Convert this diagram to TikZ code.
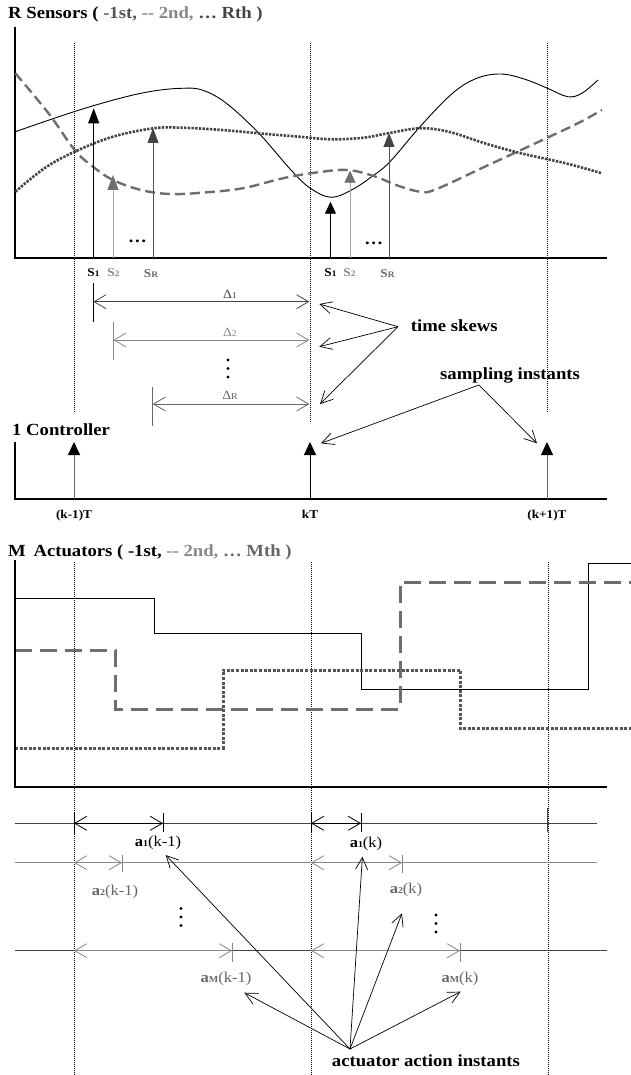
\documentclass[tikz,border=0pt]{standalone}
\usepackage{fontspec}
\setmainfont{Liberation Serif}[FakeStretch=1.1]
\usetikzlibrary{arrows.meta}
\definecolor{gA}{HTML}{888888}
\definecolor{gB}{HTML}{666666}
\definecolor{gC}{HTML}{555555}
\definecolor{gD}{HTML}{444444}
\definecolor{gL}{HTML}{AAAAAA}
\definecolor{gS}{HTML}{6E6E6E}
\tikzset{
  axis/.style={line width=1.4pt, black},
  grid/.style={line width=0.8pt, black, dash pattern=on 0.9pt off 1.1pt},
  solidc/.style={line width=0.9pt, black},
  dashc/.style={gS, line width=2.4pt, dash pattern=on 10pt off 5pt},
  dotc/.style={gD, line width=2.6pt, dash pattern=on 2.4pt off 1.3pt},
  stepsolid/.style={line width=1pt, black},
  stepdash/.style={gS, line width=3pt, dash pattern=on 17pt off 8pt},
  stepdot/.style={gC, line width=3pt, dash pattern=on 3pt off 1.6pt},
  sarrow/.style={line width=0.8pt},
  barbs/.style={{Straight Barb[length=12pt,width=14pt]}-{Straight Barb[length=12pt,width=14pt]}, line width=0.8pt},
  pointer/.style={-{Straight Barb[length=12pt,width=12pt]}, line width=0.7pt, black},
  tick/.style={line width=0.8pt},
  rowline/.style={line width=0.8pt},
  bigtxt/.style={font=\bfseries\fontsize{17}{20}\selectfont, anchor=base west, inner sep=0pt},
  slab/.style={font=\bfseries\fontsize{12}{14}\selectfont, anchor=base, inner sep=0pt},
  dlab/.style={font=\fontsize{12.5}{14}\selectfont, anchor=base, inner sep=0pt},
  tlab/.style={font=\bfseries\fontsize{12}{14}\selectfont, anchor=base, inner sep=0pt},
  alab/.style={font=\fontsize{15}{17}\selectfont, anchor=base, inner sep=0pt},
  dotsl/.style={font=\bfseries\fontsize{17}{20}\selectfont, anchor=base, inner sep=0pt},
}
\newcommand{\Ssub}[1]{S{\fontsize{8.5}{9}\selectfont #1}}
\newcommand{\Dsub}[1]{Δ{\fontsize{9}{10}\selectfont #1}}
\newcommand{\Asub}[2]{{\bfseries a{\fontsize{9}{10}\selectfont #1}}(#2)}
\begin{document}
\begin{tikzpicture}[x=1pt,y=-1pt]
\useasboundingbox (0,0) rectangle (631,1075);

%================ SENSORS ================
\node[bigtxt] (tS) at (8,18.3) {R Sensors ( \textcolor{gC}{-1st,} \textcolor{gA}{-{}- 2nd,} \textcolor{gD}{… Rth )}};
\coordinate (sTop) at (15,27);
\coordinate (sO) at (15,258);
\coordinate (sEnd) at (607,258);
\draw[axis] (sTop) -- (sO) -- (sEnd);

\draw[grid] (74,43) -- (74,413);
\draw[grid] (310,43) -- (310,423);
\draw[grid] (547,43) -- (547,413);

% curves
\draw[solidc] plot[smooth, tension=0.6] coordinates {
 (15.4,131.7) (74,111.7) (121,98) (153.5,91) (181.8,88.3) (202,90) (226,103)
 (258.6,133) (291,170) (310,188) (331,197.3) (351.5,190) (371.7,176.7) (390,161.7)
 (420,126.7) (452.5,93.3) (476.8,78.3) (501,74) (525,79.3) (547.5,88.3) (567.7,96.7)
 (581.8,93.3) (598,80)};
\draw[dashc] plot[smooth, tension=0.6] coordinates {
 (15.4,73.3) (48.5,113.3) (74.7,150) (93,166.7) (113,180) (141,190) (169.7,194)
 (202,192.7) (242.4,188.3) (282.8,178.3) (315,172.7) (347.5,170) (375.8,176.7)
 (396,185) (420,191.7) (436,189.3) (484.8,166.7) (521,150) (549.5,136.7) (577.8,123.3) (602,110)};
\draw[dotc] plot[smooth, tension=0.6] coordinates {
 (15.4,191.7) (44.4,168.3) (74.7,151.7) (113,136.7) (153.5,128.3) (181.8,127.7)
 (222,130) (258.6,133.3) (299,136.7) (331.3,139.3) (363.6,137.7) (387.9,133.3)
 (420,128.3) (448.5,131.7) (484.8,143.3) (521,153.3) (565.7,163.3) (602,173.3)};

% sensor sampling arrows
\coordinate (a1b) at (93.7,258);  \coordinate (a1t) at (93.7,108.3);
\coordinate (a2b) at (113,258);   \coordinate (a2t) at (113,175);
\coordinate (aRb) at (153,258);   \coordinate (aRt) at (153,128);
\coordinate (b1b) at (330.5,258); \coordinate (b1t) at (330.5,201.7);
\coordinate (b2b) at (350,258);   \coordinate (b2t) at (350,170.7);
\coordinate (bRb) at (389,258);   \coordinate (bRt) at (389,133);
\draw[sarrow, black, -{Triangle[length=15pt,width=11pt,color=black]}] (a1b) -- (a1t);
\draw[sarrow, gL, -{Triangle[length=15pt,width=11pt,color=gS]}] (a2b) -- (a2t);
\draw[sarrow, gC, -{Triangle[length=15pt,width=11pt,color=gD]}] (aRb) -- (aRt);
\draw[sarrow, black, -{Triangle[length=12pt,width=11pt,color=black]}] (b1b) -- (b1t);
\draw[sarrow, gL, -{Triangle[length=12pt,width=11pt,color=gS]}] (b2b) -- (b2t);
\draw[sarrow, gC, -{Triangle[length=14pt,width=11pt,color=gD]}] (bRb) -- (bRt);

\node[dotsl] (e1) at (137.4,243) {…};
\node[dotsl] (e2) at (373.7,244) {…};

% sensor labels
\node[slab, black] (ls1) at (93.5,276) {\Ssub{1}};
\node[slab, gA] (ls2) at (113.5,276) {\Ssub{2}};
\node[slab, gB] (lsR) at (151,277) {\Ssub{R}};
\node[slab, black] (ks1) at (330.5,276) {\Ssub{1}};
\node[slab, gA] (ks2) at (349.5,276) {\Ssub{2}};
\node[slab, gB] (ksR) at (387.5,277) {\Ssub{R}};

% time skews
\draw[tick, black] (93.3,283) -- (93.3,321.7);
\draw[barbs, gD] (93.3,301.7) -- (309.3,301.7);
\node[dlab, gD] (d1) at (230,298) {\Dsub{1}};
\draw[tick, gA] (113.3,321.7) -- (113.3,360);
\draw[barbs, gA] (113.3,340) -- (309.3,340);
\node[dlab, gA] (d2) at (230,336.5) {\Dsub{2}};
\fill (228,360) circle (1.7pt) (228,368.5) circle (1.7pt) (228,377) circle (1.7pt);
\draw[tick, gB] (152.7,387) -- (152.7,426);
\draw[barbs, gB] (152.7,404) -- (309.3,404);
\node[dlab, gB] (dR) at (230,399.5) {\Dsub{R}};

\node[bigtxt] (ts) at (410.7,331.7) {time skews};
\coordinate (tsO) at (398,326.7);
\coordinate (tsA) at (319.3,304);
\coordinate (tsB) at (319.3,346.7);
\coordinate (tsC) at (320,404);
\draw[pointer] (tsO) -- (tsA);
\draw[pointer] (tsO) -- (tsB);
\draw[pointer] (tsO) -- (tsC);

\node[bigtxt] (si) at (440,379.5) {sampling instants};
\coordinate (siO) at (478.8,385);
\coordinate (siA) at (321,443.3);
\coordinate (siB) at (537,443.3);
\draw[pointer] (siO) -- (siA);
\draw[pointer] (siO) -- (siB);

%================ CONTROLLER ================
\node[bigtxt] (tC) at (12,435.7) {1 Controller};
\coordinate (cTop) at (15,441.7);
\coordinate (cO) at (15,499);
\coordinate (cEnd) at (607,499);
\draw[axis] (cTop) -- (cO) -- (cEnd);
\coordinate (c1b) at (74,499);  \coordinate (c1t) at (74,442);
\coordinate (c2b) at (310,499); \coordinate (c2t) at (310,442);
\coordinate (c3b) at (547,499); \coordinate (c3t) at (547,442);
\draw[sarrow, gB, line width=1pt, -{Triangle[length=13pt,width=12pt,color=black]}] (c1b) -- (c1t);
\draw[sarrow, black, line width=1pt, -{Triangle[length=13pt,width=12pt,color=black]}] (c2b) -- (c2t);
\draw[sarrow, gB, line width=1pt, -{Triangle[length=13pt,width=12pt,color=black]}] (c3b) -- (c3t);
\node[tlab] (k0) at (74,518.5) {(k-1)T};
\node[tlab] (k1) at (310,518.5) {kT};
\node[tlab] (k2) at (547,518.5) {(k+1)T};

%================ ACTUATORS ================
\node[bigtxt] (tA) at (8,556) {M\hspace{0.45em}Actuators ( -1st, \textcolor{gA}{-{}- 2nd,} \textcolor{gB}{… Mth )}};
\coordinate (uTop) at (15,560);
\coordinate (uO) at (15,787);
\coordinate (uEnd) at (607,787);

\draw[grid] (74,562) -- (74,1075);
\draw[grid] (311,562) -- (311,1075);
\draw[grid] (548,562) -- (548,1075);

\draw[stepsolid] (15,598) -- (154,598) -- (154,633) -- (361,633) -- (361,689) -- (588,689) -- (588,563) -- (631,563);
\draw[stepdash] (15,650) -- (115,650) -- (115,709) -- (400,709) -- (400,582) -- (631,582);
\draw[stepdot] (15,748) -- (223,748) -- (223,670) -- (460,670) -- (460,728) -- (631,728);
\draw[axis] (uTop) -- (uO) -- (uEnd);

% action rows
\draw[rowline, gD] (15,823.3) -- (597,823.3);
\draw[rowline, gA] (15,862.7) -- (597,862.7);
\draw[rowline, gD] (15,950.7) -- (607,950.7);

% row 1
\draw[tick, black] (74,813) -- (74,834);
\draw[tick, black] (163,813) -- (163,832);
\draw[barbs, black] (74,823.3) -- (163,823.3);
\draw[tick, black] (311,813) -- (311,832);
\draw[tick, black] (361,813) -- (361,832);
\draw[barbs, black] (311,823.3) -- (361,823.3);
\draw[tick, gD] (547.5,808) -- (547.5,832);
\node[alab] (r1a) at (158,846.7) {\Asub{1}{k-1}};
\node[alab] (r1b) at (366,847) {\Asub{1}{k}};

% row 2
\draw[tick, gA] (122,855) -- (122,872);
\draw[barbs, gA] (74,862.7) -- (122,862.7);
\draw[tick, gA] (402,855) -- (402,873);
\draw[barbs, gA] (311,862.7) -- (402,862.7);
\node[alab, gB] (r2a) at (115,895) {\Asub{2}{k-1}};
\node[alab, gB] (r2b) at (406,893) {\Asub{2}{k}};

\fill (181,908.5) circle (1.7pt) (181,917) circle (1.7pt) (181,925.5) circle (1.7pt);
\fill (436,915) circle (1.7pt) (436,923.5) circle (1.7pt) (436,932) circle (1.7pt);

% row M
\draw[tick, gA] (232,943) -- (232,962);
\draw[barbs, gA] (74,950.7) -- (232,950.7);
\draw[tick, gA] (460,943) -- (460,962);
\draw[barbs, gA] (311,950.7) -- (460,950.7);
\node[alab, gB] (rMa) at (226,982.7) {\Asub{M}{k-1}};
\node[alab, gB] (rMb) at (460,982) {\Asub{M}{k}};

\node[bigtxt] (ai) at (331.7,1066.7) {actuator action instants};
\coordinate (aiO) at (350,1049);
\coordinate (p1) at (165.7,855);
\coordinate (p2) at (362.4,856.7);
\coordinate (p3) at (402,913.3);
\coordinate (p4) at (244.4,992.7);
\coordinate (p5) at (460.6,991.7);
\foreach \p in {p1,p2,p3,p4,p5} \draw[pointer] (aiO) -- (\p);
\end{tikzpicture}
\end{document}
